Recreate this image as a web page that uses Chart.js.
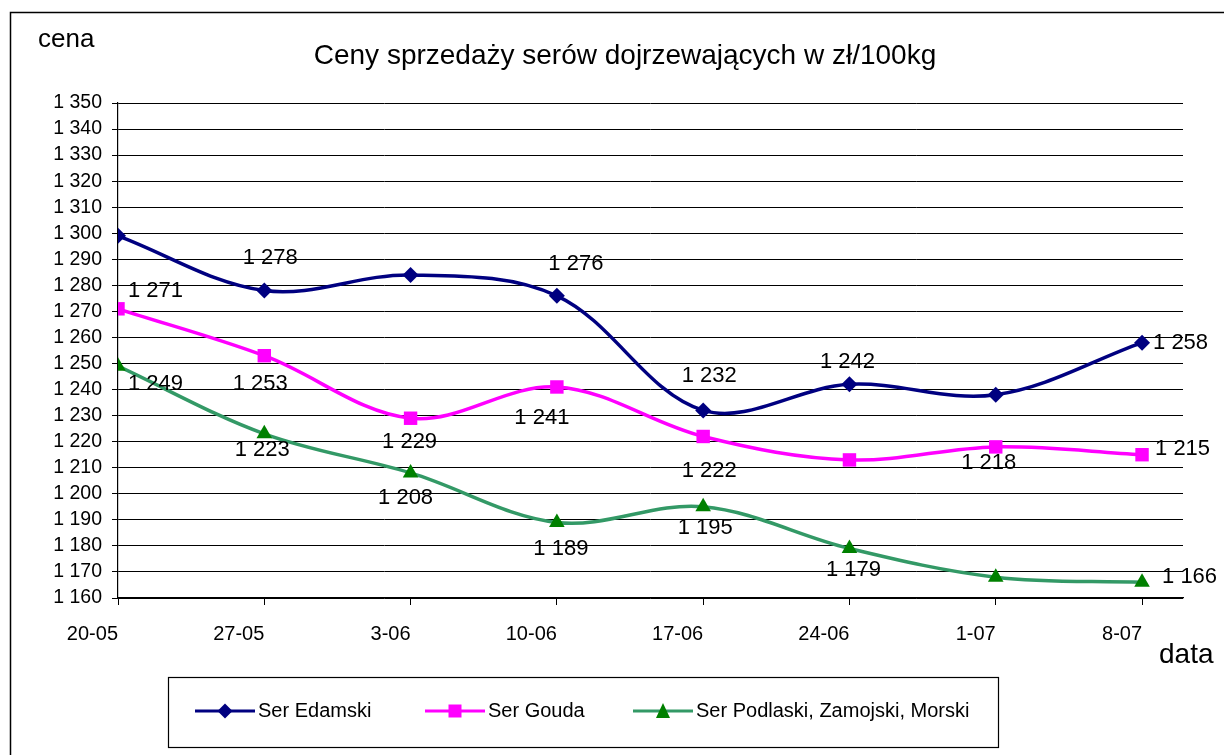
<!DOCTYPE html>
<html>
<head>
<meta charset="utf-8">
<title>Ceny sprzedaży serów dojrzewających</title>
<script src="https://cdn.jsdelivr.net/npm/chart.js"></script>
<style>
  html, body { margin: 0; padding: 0; background: #fff; }
  #wrap { width: 1224px; height: 755px; }
</style>
</head>
<body>
<div id="wrap"><canvas id="chart"></canvas></div>
<script>
// data
const dates = ['20-05', '27-05', '3-06', '10-06', '17-06', '24-06', '1-07', '8-07'];
const edamski = [1299, 1278, 1284, 1276, 1232, 1242, 1238, 1258];
const gouda = [1271, 1253, 1229, 1241, 1222, 1213, 1218, 1215];
const podlaski = [1249, 1223, 1208, 1189, 1195, 1179, 1168, 1166];
const seriesNames = ['Ser Edamski', 'Ser Gouda', 'Ser Podlaski, Zamojski, Morski'];

// value labels: [dx, dy, align] relative to the point, null = no label
const edamskiLabels = [null, [6, -33, 'center'], null, [19, -32, 'center'], [6, -34, 'center'], [-2, -22, 'center'], null, [11, 0, 'left']];
const goudaLabels = [[10, -18, 'left'], [-4, 28, 'center'], [-1, 24, 'center'], [-15, 31, 'center'], [6, 34, 'center'], null, [-7, 16, 'center'], [13, -6, 'left']];
const podlaskiLabels = [[10, 18, 'left'], [-2, 16, 'center'], [-5, 25, 'center'], [4, 26, 'center'], [2, 21, 'center'], [4, 21, 'center'], null, [20, -5, 'left']];

const FONT = '"Liberation Sans", Arial, sans-serif';

function fmt(v) {
    return Math.floor(v / 1000) + ' ' + String(v % 1000).padStart(3, '0');
}
function pts(arr) {
    return arr.map((v, i) => ({ x: i, y: v }));
}

const labelSets = [edamskiLabels, goudaLabels, podlaskiLabels];

const valueLabels = {
    id: 'valueLabels',
    afterDatasetsDraw(chart) {
        const ctx = chart.ctx;
        ctx.save();
        ctx.font = '22px ' + FONT;
        ctx.fillStyle = '#000';
        ctx.textBaseline = 'middle';
        chart.data.datasets.forEach((ds, i) => {
            const meta = chart.getDatasetMeta(i);
            meta.data.forEach((p, j) => {
                const l = labelSets[i][j];
                if (!l) return;
                ctx.textAlign = l[2];
                ctx.fillText(fmt(ds.data[j].y), p.x + l[0], p.y + l[1]);
            });
        });
        ctx.restore();
    }
};

const decor = {
    id: 'decor',
    beforeDraw(chart) {
        const ctx = chart.ctx;
        ctx.save();
        ctx.fillStyle = '#fff';
        ctx.fillRect(0, 0, chart.width, chart.height);
        ctx.restore();
    },
    afterDraw(chart) {
        const ctx = chart.ctx;
        ctx.save();
        // outer frame (right and bottom edges fall outside the picture)
        ctx.strokeStyle = '#000';
        ctx.lineWidth = 1.5;
        ctx.strokeRect(10.5, 12.5, 1240, 760);

        ctx.fillStyle = '#000';
        ctx.textBaseline = 'middle';
        ctx.textAlign = 'left';
        ctx.font = '26px ' + FONT;
        ctx.fillText('cena', 38, 40);
        ctx.font = '28px ' + FONT;
        ctx.fillText('data', 1159, 655);
        ctx.textAlign = 'center';
        ctx.fillText('Ceny sprzedaży serów dojrzewających w zł/100kg', 625, 56);

        // legend
        ctx.lineWidth = 1.2;
        ctx.strokeRect(168.5, 677.5, 830, 70);
        const lx = [195, 425, 633];
        ctx.font = '20px ' + FONT;
        ctx.textAlign = 'left';
        chart.data.datasets.forEach((ds, i) => {
            const x = lx[i], y = 711;
            ctx.strokeStyle = ds.borderColor;
            ctx.lineWidth = 3;
            ctx.beginPath();
            ctx.moveTo(x, y);
            ctx.lineTo(x + 60, y);
            ctx.stroke();
            ctx.fillStyle = ds.pointBackgroundColor;
            const cx = x + 30;
            ctx.beginPath();
            if (ds.pointStyle === 'rectRot') {
                ctx.moveTo(cx, y - 7.5); ctx.lineTo(cx + 7.5, y); ctx.lineTo(cx, y + 7.5); ctx.lineTo(cx - 7.5, y);
            } else if (ds.pointStyle === 'rect') {
                ctx.rect(cx - 6.5, y - 6.5, 13, 13);
            } else {
                ctx.moveTo(cx, y - 8); ctx.lineTo(cx + 7, y + 7); ctx.lineTo(cx - 7, y + 7);
            }
            ctx.closePath();
            ctx.fill();
            ctx.fillStyle = '#000';
            ctx.fillText(seriesNames[i], x + 63, y);
        });
        ctx.restore();
    }
};

new Chart(document.getElementById('chart').getContext('2d'), {
    type: 'line',
    data: {
        datasets: [
            {
                label: seriesNames[0],
                data: pts(edamski),
                borderColor: '#000080',
                backgroundColor: '#000080',
                pointBackgroundColor: '#000080',
                pointBorderColor: '#000080',
                pointStyle: 'rectRot',
                pointRadius: 8
            },
            {
                label: seriesNames[1],
                data: pts(gouda),
                borderColor: '#ff00ff',
                backgroundColor: '#ff00ff',
                pointBackgroundColor: '#ff00ff',
                pointBorderColor: '#ff00ff',
                pointStyle: 'rect',
                pointRadius: 9.5
            },
            {
                label: seriesNames[2],
                data: pts(podlaski),
                borderColor: '#339966',
                backgroundColor: '#008000',
                pointBackgroundColor: '#008000',
                pointBorderColor: '#008000',
                pointStyle: 'triangle',
                pointRadius: 9
            }
        ]
    },
    options: {
        responsive: true,
        maintainAspectRatio: false,
        animation: false,
        devicePixelRatio: 1,
        layout: { padding: { top: 103, right: 41, left: 0, bottom: 0 } },
        elements: {
            line: { borderWidth: 3.5, tension: 0.35 },
            point: { borderWidth: 0 }
        },
        plugins: {
            legend: { display: false },
            title: { display: false },
            tooltip: { enabled: false }
        },
        scales: {
            x: {
                type: 'linear',
                min: 0,
                max: 7.28,
                afterBuildTicks(scale) {
                    // one tick per date, none at the extra room on the right
                    scale.ticks = dates.map((d, i) => ({ value: i }));
                },
                afterFit(scale) { scale.height = 157; },
                ticks: {
                    align: 'end',
                    padding: 17,
                    color: '#000',
                    font: { family: FONT, size: 20 },
                    maxRotation: 0,
                    autoSkip: false,
                    callback: v => dates[v] ?? ''
                },
                grid: { drawOnChartArea: false, color: '#000', tickLength: 7 },
                border: { color: '#000', width: 1.2 }
            },
            y: {
                min: 1160,
                max: 1350,
                afterFit(scale) { scale.width = 118; },
                ticks: {
                    stepSize: 10,
                    autoSkip: false,
                    padding: 10,
                    color: '#000',
                    font: { family: FONT, size: 19.5 },
                    callback: v => fmt(v)
                },
                grid: { color: '#000', lineWidth: 1, tickLength: 6 },
                border: { color: '#000', width: 1.2 }
            }
        }
    },
    plugins: [decor, valueLabels]
});
</script>
</body>
</html>
